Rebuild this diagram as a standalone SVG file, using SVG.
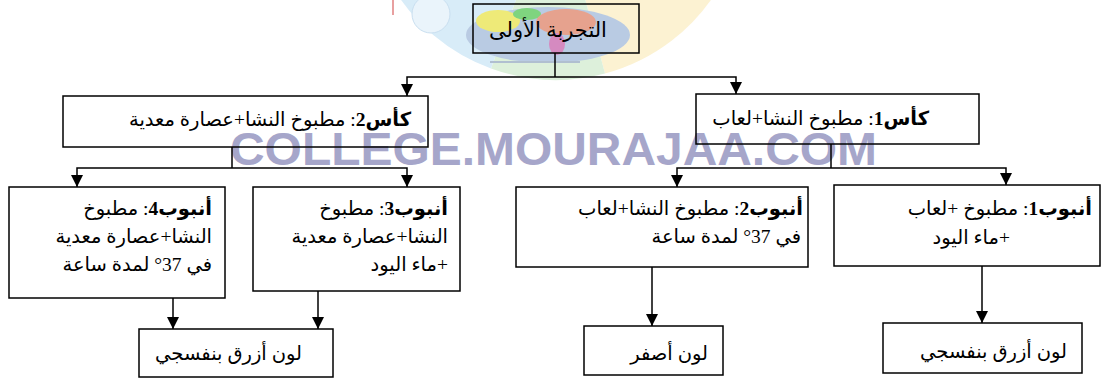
<svg xmlns="http://www.w3.org/2000/svg" width="1102" height="378" viewBox="0 0 1102 378">
<style>
.box{fill:none;stroke:#000;stroke-width:1.5}
.conn{fill:none;stroke:#000;stroke-width:1.5}
.t{font-family:"Liberation Serif","DejaVu Sans",serif;font-size:19.5px;fill:#000;direction:rtl}
.b{font-weight:bold}
.wm{font-family:"Liberation Sans",sans-serif;font-weight:bold;font-size:46px;fill:#a6a6ca}
</style>
<defs>
<marker id="arr" markerUnits="userSpaceOnUse" markerWidth="12" markerHeight="12" refX="12" refY="6" orient="auto">
<path d="M0,0 L12,6 L0,12 z" fill="#000"/>
</marker>
</defs>
<rect width="1102" height="378" fill="#fff"/>
<g id="watermark-logo">
<path d="M556,-110 L720.5,-15 A190,190 0 0 1 605,73.5 Z" fill="#fcf2d2"/>
<path d="M556,-110 L605,73.5 A190,190 0 0 1 491,68.5 Z" fill="#ddf0db"/>
<path d="M556,-110 L491,68.5 A190,190 0 0 1 391.5,-15 Z" fill="#d8ecf8"/>
<circle cx="431" cy="14" r="19" fill="#eaf4fb" stroke="#c9dff0" stroke-width="1"/>
<line x1="393" y1="0" x2="393" y2="15" stroke="#e08080" stroke-width="1.5"/>
<ellipse cx="548" cy="35" rx="82" ry="28" fill="#b9cbe3"/>
<ellipse cx="498" cy="21" rx="22" ry="11" fill="#eeea78"/>
<ellipse cx="527" cy="14" rx="14" ry="6" fill="#7fd47f"/>
<ellipse cx="566" cy="22" rx="30" ry="13" fill="#e6a28e"/>
<ellipse cx="557" cy="44" rx="8" ry="11" fill="#d58ac0"/>
<rect x="490" y="61" width="90" height="2" fill="#b0bfd0"/>
</g>
<text class="wm" x="230" y="165" textLength="647" lengthAdjust="spacingAndGlyphs">COLLEGE.MOURAJAA.COM</text>
<g id="connectors">
<path class="conn" d="M555,53 V77"/>
<path class="conn" d="M555,77 H407 V96" marker-end="url(#arr)"/>
<path class="conn" d="M555,77 H736 V94" marker-end="url(#arr)"/>
<path class="conn" d="M232,147 V168"/>
<path class="conn" d="M232,168 H77 V187" marker-end="url(#arr)"/>
<path class="conn" d="M232,168 H407 V187" marker-end="url(#arr)"/>
<path class="conn" d="M831,144 V168"/>
<path class="conn" d="M831,168 H677 V187" marker-end="url(#arr)"/>
<path class="conn" d="M831,168 H1006 V185" marker-end="url(#arr)"/>
<path class="conn" d="M173,298 V329" marker-end="url(#arr)"/>
<path class="conn" d="M318,291 V329" marker-end="url(#arr)"/>
<path class="conn" d="M652,267 V326" marker-end="url(#arr)"/>
<path class="conn" d="M982,266 V323" marker-end="url(#arr)"/>
</g>
<g id="n-top">
<rect class="box" x="473" y="4" width="166" height="49"/>
<text class="t" x="548" y="37" text-anchor="middle" style="font-size:21px">التجربة الأولى</text>
</g>
<g id="n-kas2">
<rect class="box" x="63" y="96" width="365" height="51"/>
<text class="t" x="411" y="126" text-anchor="start"><tspan class="b">كأس2</tspan>: مطبوخ النشا+عصارة معدية</text>
</g>
<g id="n-kas1">
<rect class="box" x="696" y="94" width="283" height="50"/>
<text class="t" x="929" y="125" text-anchor="start"><tspan class="b">كأس1</tspan>: مطبوخ النشا+لعاب</text>
</g>
<g id="n-anbub4">
<rect class="box" x="9" y="187" width="216" height="111"/>
<text class="t" x="212" y="215" text-anchor="start"><tspan class="b">أنبوب4</tspan>: مطبوخ</text>
<text class="t" x="212" y="243" text-anchor="start">النشا+عصارة معدية</text>
<text class="t" x="212" y="271" text-anchor="start">في 37° لمدة ساعة</text>
</g>
<g id="n-anbub3">
<rect class="box" x="253" y="187" width="207" height="104"/>
<text class="t" x="448" y="215" text-anchor="start"><tspan class="b">أنبوب3</tspan>: مطبوخ</text>
<text class="t" x="448" y="243" text-anchor="start">النشا+عصارة معدية</text>
<text class="t" x="448" y="271" text-anchor="start">+ماء اليود</text>
</g>
<g id="n-anbub2">
<rect class="box" x="516" y="187" width="292" height="80"/>
<text class="t" x="803" y="215" text-anchor="start"><tspan class="b">أنبوب2</tspan>: مطبوخ النشا+لعاب</text>
<text class="t" x="801" y="243" text-anchor="start">في 37° لمدة ساعة</text>
</g>
<g id="n-anbub1">
<rect class="box" x="834" y="185" width="266" height="81"/>
<text class="t" x="1092" y="215" text-anchor="start"><tspan class="b">أنبوب1</tspan>: مطبوخ +لعاب</text>
<text class="t" x="1010" y="244" text-anchor="start">+ماء اليود</text>
</g>
<g id="n-res-left">
<rect class="box" x="139" y="329" width="194" height="48"/>
<text class="t" x="302" y="360" text-anchor="start">لون أزرق بنفسجي</text>
</g>
<g id="n-res-mid">
<rect class="box" x="584" y="326" width="139" height="49"/>
<text class="t" x="708" y="360" text-anchor="start">لون أصفر</text>
</g>
<g id="n-res-right">
<rect class="box" x="883" y="323" width="199" height="50"/>
<text class="t" x="1067" y="358" text-anchor="start">لون أزرق بنفسجي</text>
</g>
</svg>
